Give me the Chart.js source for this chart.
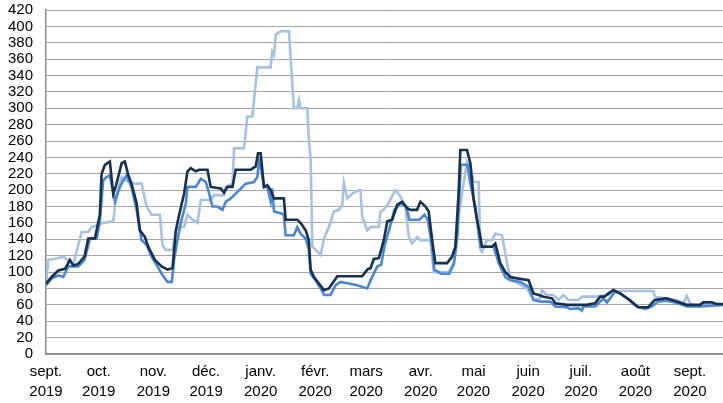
<!DOCTYPE html>
<html>
<head>
<meta charset="utf-8">
<script src="https://cdn.jsdelivr.net/npm/chart.js@4.4.1/dist/chart.umd.min.js"></script>
<style>
  html, body { margin: 0; padding: 0; background: #fff; }
  #wrap { width: 723px; height: 403px; }
</style>
</head>
<body>
<div id="wrap"><canvas id="chart" width="723" height="403"></canvas></div>
<script>
// ========== DATA ==========
// x = days since 1 Sept 2019

const MONTH_DAYS = [0, 30, 61, 91, 122, 153, 182, 213, 243, 274, 304, 335, 366];
const MONTH_LABELS = [
  ['sept.', '2019'], ['oct.', '2019'], ['nov.', '2019'], ['déc.', '2019'],
  ['janv.', '2020'], ['févr.', '2020'], ['mars', '2020'], ['avr.', '2020'],
  ['mai', '2020'], ['juin', '2020'], ['juil.', '2020'], ['août', '2020'], ['sept.', '2020'],
];
const LAST_DAY = 384.8;

const darkDays = [0, 3.2, 7, 10.8, 13.6, 15.5, 18.3, 21.9, 24, 27.8, 30.6, 31.6, 33.5, 36.3, 38.2, 39.7, 43, 44.8, 46.7, 48.6, 51.5, 53.3, 56.2, 58.1, 61.9, 65.7, 69.1, 71.9, 73.8, 75.7, 78.5, 80.4, 82.3, 85.1, 87, 91.8, 93.6, 99.3, 101.2, 103.1, 106, 107.8, 116.3, 119.2, 120.5, 122, 123.9, 125.8, 127.7, 129.6, 135.2, 136.2, 142.8, 144.7, 147.6, 149.4, 150.4, 152.3, 155.1, 158, 160.8, 162.7, 165.6, 179.7, 182.6, 184.5, 186.3, 189.2, 192, 194, 196.8, 199.6, 202.4, 205.3, 207.2, 210.9, 212.8, 215.7, 217.5, 219.5, 221.3, 228, 230.8, 232.7, 234.6, 235.5, 239.3, 241.2, 243.1, 245, 246.9, 247.8, 253.5, 255.4, 258.2, 261.1, 263.9, 268.6, 274.3, 277.1, 280, 282.8, 287.6, 289.5, 296.1, 307.4, 312.1, 315, 317.3, 319.7, 322.5, 326.3, 331.8, 336.6, 342.2, 346, 352.6, 358.3, 364.2, 371.7, 373.6, 378.4, 381.2, 384.8];
const darkVals = [86, 94, 102, 104, 115, 108, 110, 119, 141, 141, 170, 220, 231, 235, 196, 205, 233, 235, 219, 208, 184, 151, 143, 131, 115, 107, 103, 105, 151, 170, 196, 223, 227, 223, 225, 225, 204, 202, 197, 204, 204, 225, 225, 229, 245, 245, 204, 206, 200, 190, 190, 164, 164, 160, 151, 139, 103, 94, 86, 78, 80, 86, 95, 95, 103, 105, 116, 117, 139, 162, 164, 182, 186, 178, 176, 176, 186, 180, 174, 139, 111, 111, 119, 131, 200, 249, 249, 233, 188, 164, 143, 131, 131, 135, 111, 100, 94, 92, 90, 74, 72, 70, 68, 62, 60, 60, 62, 70, 70, 74, 78, 74, 66, 57, 57, 66, 68, 64, 60, 60, 63, 63, 61, 61];

const midDays = [0, 3.2, 7, 9.8, 12.7, 18.3, 21.9, 25, 28.8, 30.6, 32.5, 34.4, 36.3, 39.2, 42, 43.9, 45.8, 48.6, 51.5, 54.3, 57.2, 60, 62.8, 65.7, 69.1, 71.5, 72.8, 74.7, 76.6, 79.5, 80.4, 85.1, 88, 90.8, 92.7, 94.6, 97.4, 100.3, 102.2, 105, 108.8, 113.5, 118.2, 120.1, 121.1, 122.4, 123.9, 125.8, 127.7, 128.6, 129.6, 133.4, 135.2, 136.2, 140.9, 142.8, 144.7, 147.6, 149.4, 150.4, 153.2, 156.1, 158, 161.7, 164.6, 167.4, 172.1, 176.9, 182.6, 184.5, 188.3, 190.5, 192.3, 195.2, 198, 201.8, 204.7, 206.6, 212.2, 215.1, 217, 219.5, 220.7, 224.5, 229.2, 232, 233.9, 235.8, 239.5, 241.2, 244, 246.9, 254.4, 257.3, 261.1, 263.9, 269.6, 274.3, 277.1, 280.9, 286.6, 289.5, 296.1, 298, 302.7, 304.6, 305.5, 312.1, 316.9, 318.8, 323.5, 326.3, 330.1, 335.8, 340.5, 344.3, 348, 352.8, 359.4, 364.2, 371.7, 384.8];
const midVals = [84, 92, 96, 94, 107, 107, 115, 141, 141, 162, 212, 216, 218, 186, 204, 212, 218, 204, 176, 139, 133, 119, 109, 98, 88, 88, 115, 139, 160, 184, 204, 204, 214, 210, 196, 180, 180, 176, 186, 190, 198, 208, 210, 216, 235, 225, 204, 204, 186, 202, 174, 172, 170, 145, 145, 155, 147, 141, 127, 98, 90, 80, 72, 72, 84, 88, 86, 84, 80, 90, 107, 109, 131, 153, 176, 184, 180, 164, 164, 170, 164, 131, 103, 98, 98, 111, 147, 231, 231, 208, 180, 131, 131, 111, 94, 90, 88, 82, 66, 64, 64, 58, 57, 55, 56, 53, 58, 58, 68, 63, 76, 74, 68, 58, 55, 58, 64, 65, 62, 58, 58, 60];

const lightDays = [0, 1.3, 7, 9.8, 13.6, 15.5, 18.3, 20.3, 24, 25.9, 28.8, 32.5, 38.2, 40.1, 43, 44.8, 47.7, 50.5, 54.3, 57.2, 60, 64.7, 66.2, 68.1, 71.9, 73.8, 75.7, 78.5, 80.4, 83.3, 86.1, 88, 93.6, 95.5, 101.2, 102.2, 106, 106.9, 112.6, 114.4, 117.3, 120.1, 127.7, 128.6, 129.6, 130.6, 133.4, 138.1, 140.9, 142.8, 143.8, 144.7, 148.5, 149.4, 150.4, 151.4, 156.1, 158, 160.8, 163.6, 166.5, 168.4, 169.3, 171.2, 174.1, 177.8, 178.8, 179.7, 182.6, 184.5, 189.2, 190.1, 192, 194, 198.6, 201.5, 204.3, 206.2, 208.1, 211, 212.8, 218.5, 220.4, 228.9, 231.7, 234.6, 239.3, 241.2, 243.1, 245.9, 246.9, 247.8, 250.7, 253.5, 255.4, 259.2, 262, 263.9, 268.6, 273.4, 277.1, 280.9, 281.8, 284.6, 288.4, 291.3, 294.1, 296.9, 302.6, 304.6, 312.1, 319.7, 324.4, 345.2, 346.2, 358.5, 362.3, 364.2, 366.1, 369.9, 375.6, 384.8];
const lightVals = [85, 115, 117, 119, 113, 109, 133, 149, 149, 155, 157, 160, 162, 196, 216, 212, 210, 208, 208, 180, 170, 170, 133, 127, 127, 151, 155, 155, 170, 164, 160, 188, 188, 194, 194, 204, 208, 251, 251, 290, 290, 350, 350, 369, 365, 390, 394, 394, 300, 300, 310, 300, 300, 261, 239, 131, 121, 141, 155, 174, 176, 182, 209, 190, 196, 200, 200, 168, 151, 155, 155, 174, 176, 182, 200, 192, 180, 143, 135, 143, 139, 139, 100, 100, 111, 170, 235, 229, 210, 210, 127, 125, 139, 139, 147, 145, 111, 92, 86, 80, 66, 68, 78, 72, 72, 66, 72, 66, 66, 70, 70, 72, 77, 77, 70, 66, 62, 71, 62, 58, 59, 60];

const COLORS = {
  dark: '#16304f',
  mid: '#4a86d2',
  light: '#a7c1e3',
};

// ========== CHART ==========

Chart.defaults.font.family = "'Liberation Sans', Arial, sans-serif";
Chart.defaults.font.size = 15;
Chart.defaults.color = '#000';

function toPoints(days, vals) {
  return days.map((d, i) => ({ x: d, y: vals[i] }));
}

function lineDataset(days, vals, color) {
  return {
    data: toPoints(days, vals),
    borderColor: color,
    backgroundColor: color,
    borderWidth: 2.6,
    pointRadius: 0,
    tension: 0,
    fill: false,
  };
}

new Chart(document.getElementById('chart'), {
  type: 'line',
  data: {
    datasets: [
      lineDataset(darkDays, darkVals, COLORS.dark),
      lineDataset(midDays, midVals, COLORS.mid),
      lineDataset(lightDays, lightVals, COLORS.light),
    ],
  },
  options: {
    responsive: false,
    animation: false,
    devicePixelRatio: 1,
    layout: { padding: { top: 10, right: 0, bottom: 0, left: 0 } },
    plugins: { legend: { display: false }, tooltip: { enabled: false } },
    scales: {
      x: {
        type: 'linear',
        min: 0,
        max: LAST_DAY,
        afterBuildTicks: s => { s.ticks = MONTH_DAYS.map(v => ({ value: v })); },
        afterFit: s => { s.height = 49; s.paddingLeft = 0; s.paddingRight = 0; },
        grid: { display: false, drawTicks: false },
        border: { display: true, color: '#8c8c8c', width: 1.5 },
        ticks: {
          autoSkip: false,
          maxRotation: 0,
          padding: 8,
          font: { size: 15, lineHeight: 1.33 },
          callback: (v, i) => MONTH_LABELS[i],
        },
      },
      y: {
        min: 0,
        max: 420,
        afterFit: s => { s.width = 46; s.paddingTop = 0; s.paddingBottom = 0; },
        grid: { color: '#a6a6a6', lineWidth: 1, drawTicks: false },
        border: { display: true, color: '#8c8c8c', width: 1.5 },
        ticks: { stepSize: 20, autoSkip: false, padding: 13, font: { size: 15 } },
      },
    },
  },
});
</script>
</body>
</html>
